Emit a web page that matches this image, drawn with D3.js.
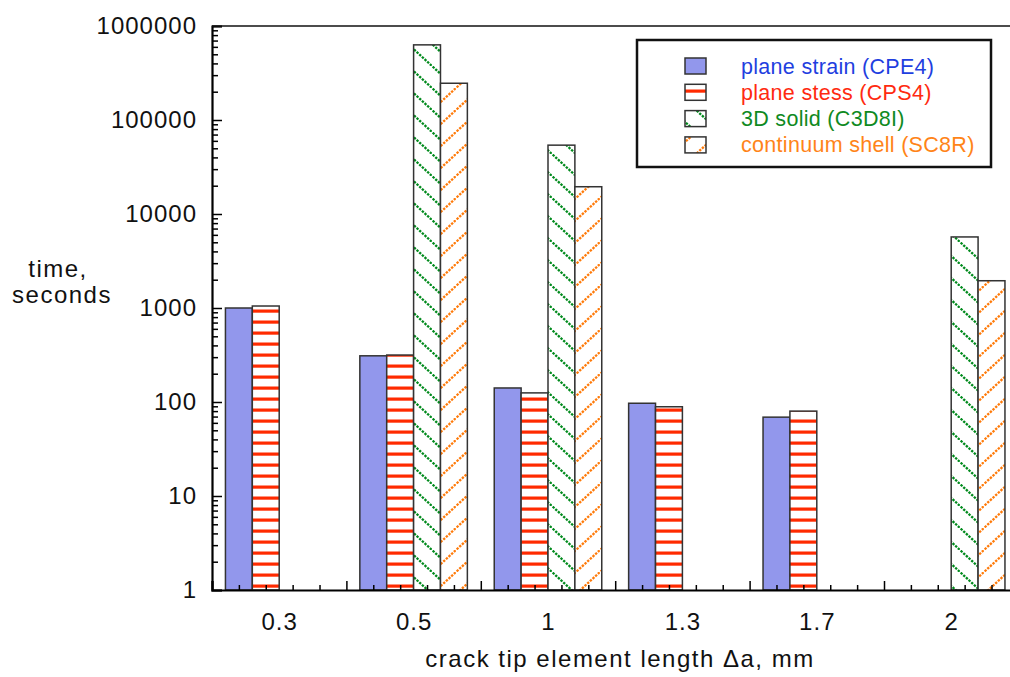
<!DOCTYPE html>
<html>
<head>
<meta charset="utf-8">
<script src="https://cdn.jsdelivr.net/npm/d3@7"></script>
<style>
  body { margin: 0; background: #fff; }
  svg { display: block; font-family: "Liberation Sans", Arial, Helvetica, sans-serif; }
</style>
</head>
<body>
<div id="chart"></div>
<script>
// crack tip element length categories
const categories = ['0.3', '0.5', '1', '1.3', '1.7', '2'];
const seriesNames = ['plane strain (CPE4)', 'plane stess (CPS4)', '3D solid (C3D8I)', 'continuum shell (SC8R)'];
// time, seconds (null = no bar)
const planeStrain = [1000, 310, 141, 97, 69, null];
const planeStress = [1050, 316, 125, 89, 80, null];
const solid3D = [null, 630000, 54000, null, null, 5700];
const contShell = [null, 246000, 19500, null, null, 1950];
const yTicks = [1, 10, 100, 1000, 10000, 100000, 1000000];

const series = [planeStrain, planeStress, solid3D, contShell];
const textColors = ['#1f3fe0', '#ff2a10', '#0f8a22', '#ff8418'];

const W = 1010, H = 677;
const svg = d3.select('#chart').append('svg').attr('width', W).attr('height', H);

const x = d3.scaleLinear().domain([0, 6]).range([212, 1018.4]);
const y = d3.scaleLog().domain([1, 1e6]).range([590, 26]);
const bw = x(0.2) - x(0);

// fill patterns
const defs = svg.append('defs');
const pStress = defs.append('pattern').attr('id', 'pStress').attr('patternUnits', 'userSpaceOnUse')
  .attr('width', 20).attr('height', 11);
pStress.append('rect').attr('width', 20).attr('height', 11).attr('fill', '#fff');
pStress.append('rect').attr('y', 1.5).attr('width', 20).attr('height', 3.2).attr('fill', '#ff2a00');

const pSolid = defs.append('pattern').attr('id', 'pSolid').attr('patternUnits', 'userSpaceOnUse')
  .attr('width', 24).attr('height', 22);
pSolid.append('rect').attr('width', 24).attr('height', 22).attr('fill', '#fff');
pSolid.append('path').attr('d', 'M-2,-1.83L26,23.83')
  .attr('stroke', '#008a1c').attr('stroke-width', 2.3).attr('stroke-dasharray', '2.4,1.2');

const pShell = defs.append('pattern').attr('id', 'pShell').attr('patternUnits', 'userSpaceOnUse')
  .attr('width', 24).attr('height', 22);
pShell.append('rect').attr('width', 24).attr('height', 22).attr('fill', '#fff');
pShell.append('path').attr('d', 'M-2,23.83L26,-1.83')
  .attr('stroke', '#ff7a08').attr('stroke-width', 2.3).attr('stroke-dasharray', '2.4,1.2');

const fills = ['#9297ec', 'url(#pStress)', 'url(#pSolid)', 'url(#pShell)'];

// bars
series.forEach((vals, k) => {
  svg.append('g').selectAll('rect')
    .data(vals.map((v, i) => ({ v, i })).filter(d => d.v != null))
    .enter()
    .append('rect')
    .attr('x', d => x(d.i + 0.1 + 0.2 * k))
    .attr('y', d => y(d.v))
    .attr('width', bw)
    .attr('height', d => y(1) - y(d.v))
    .attr('fill', fills[k])
    .attr('stroke', '#333')
    .attr('stroke-width', 1.5);
});

// y axis
const minorY = [];
for (let e = 0; e < 6; e++) for (let m = 2; m <= 9; m++) minorY.push(m * Math.pow(10, e));
svg.append('g').attr('transform', 'translate(212,0)')
  .call(d3.axisLeft(y).tickValues(minorY).tickSize(-6).tickFormat(''))
  .call(g => g.select('.domain').remove())
  .call(g => g.selectAll('line').attr('stroke-width', 1.5));
svg.append('g').attr('transform', 'translate(212,0)')
  .call(d3.axisLeft(y).tickValues(yTicks).tickSize(-10).tickPadding(15).tickFormat(d3.format('d')))
  .call(g => g.select('.domain').attr('stroke-width', 2.2))
  .call(g => g.selectAll('line').attr('stroke-width', 1.5))
  .call(g => g.selectAll('text').attr('font-size', 24).attr('letter-spacing', 1).attr('fill', '#111').attr('font-family', null));

// x axis
svg.append('g').attr('transform', 'translate(0,590)')
  .call(d3.axisBottom(x).tickValues(d3.range(0, 30).map(d => d / 5).filter(d => d % 1 !== 0)).tickSize(-5).tickFormat(''))
  .call(g => g.select('.domain').remove())
  .call(g => g.selectAll('line').attr('stroke-width', 1.5));
svg.append('g').attr('transform', 'translate(0,590)')
  .call(d3.axisBottom(x).tickValues(d3.range(0, 7)).tickSize(-9).tickFormat(''))
  .call(g => g.select('.domain').attr('stroke-width', 2.2))
  .call(g => g.selectAll('line').attr('stroke-width', 1.5));
svg.append('g').attr('transform', 'translate(0,590)')
  .call(d3.axisBottom(x).tickValues(categories.map((c, i) => i + 0.5)).tickSize(0).tickPadding(23)
    .tickFormat((d, i) => categories[i]))
  .call(g => g.select('.domain').remove())
  .call(g => g.selectAll('text').attr('font-size', 24).attr('letter-spacing', 1).attr('fill', '#111').attr('font-family', null));

// top frame line
svg.append('line').attr('x1', 212).attr('x2', W).attr('y1', 26).attr('y2', 26)
  .attr('stroke', '#111').attr('stroke-width', 1.5);

// axis titles
svg.append('text').attr('x', 58).attr('y', 277).attr('text-anchor', 'middle')
  .attr('font-size', 24).attr('letter-spacing', 1.5).attr('fill', '#111').text('time,');
svg.append('text').attr('x', 62).attr('y', 303).attr('text-anchor', 'middle')
  .attr('font-size', 24).attr('letter-spacing', 1.5).attr('fill', '#111').text('seconds');
svg.append('text').attr('x', 620).attr('y', 667).attr('text-anchor', 'middle')
  .attr('font-size', 24).attr('letter-spacing', 1.5).attr('fill', '#111').text('crack tip element length \u0394a, mm');

// legend
const lg = svg.append('g');
lg.append('rect').attr('x', 637).attr('y', 40).attr('width', 354).attr('height', 127)
  .attr('fill', '#fff').attr('stroke', '#111').attr('stroke-width', 2.5);
seriesNames.forEach((name, k) => {
  const cy = 66 + k * 26.3;
  lg.append('rect').attr('x', 685).attr('y', cy - 8).attr('width', 21).attr('height', 16)
    .attr('fill', fills[k]).attr('stroke', '#333').attr('stroke-width', 1.5);
  lg.append('text').attr('x', 741).attr('y', cy + 7.5).attr('font-size', 21.5).attr('letter-spacing', 0.3)
    .attr('fill', textColors[k]).text(name);
});
</script>
</body>
</html>
